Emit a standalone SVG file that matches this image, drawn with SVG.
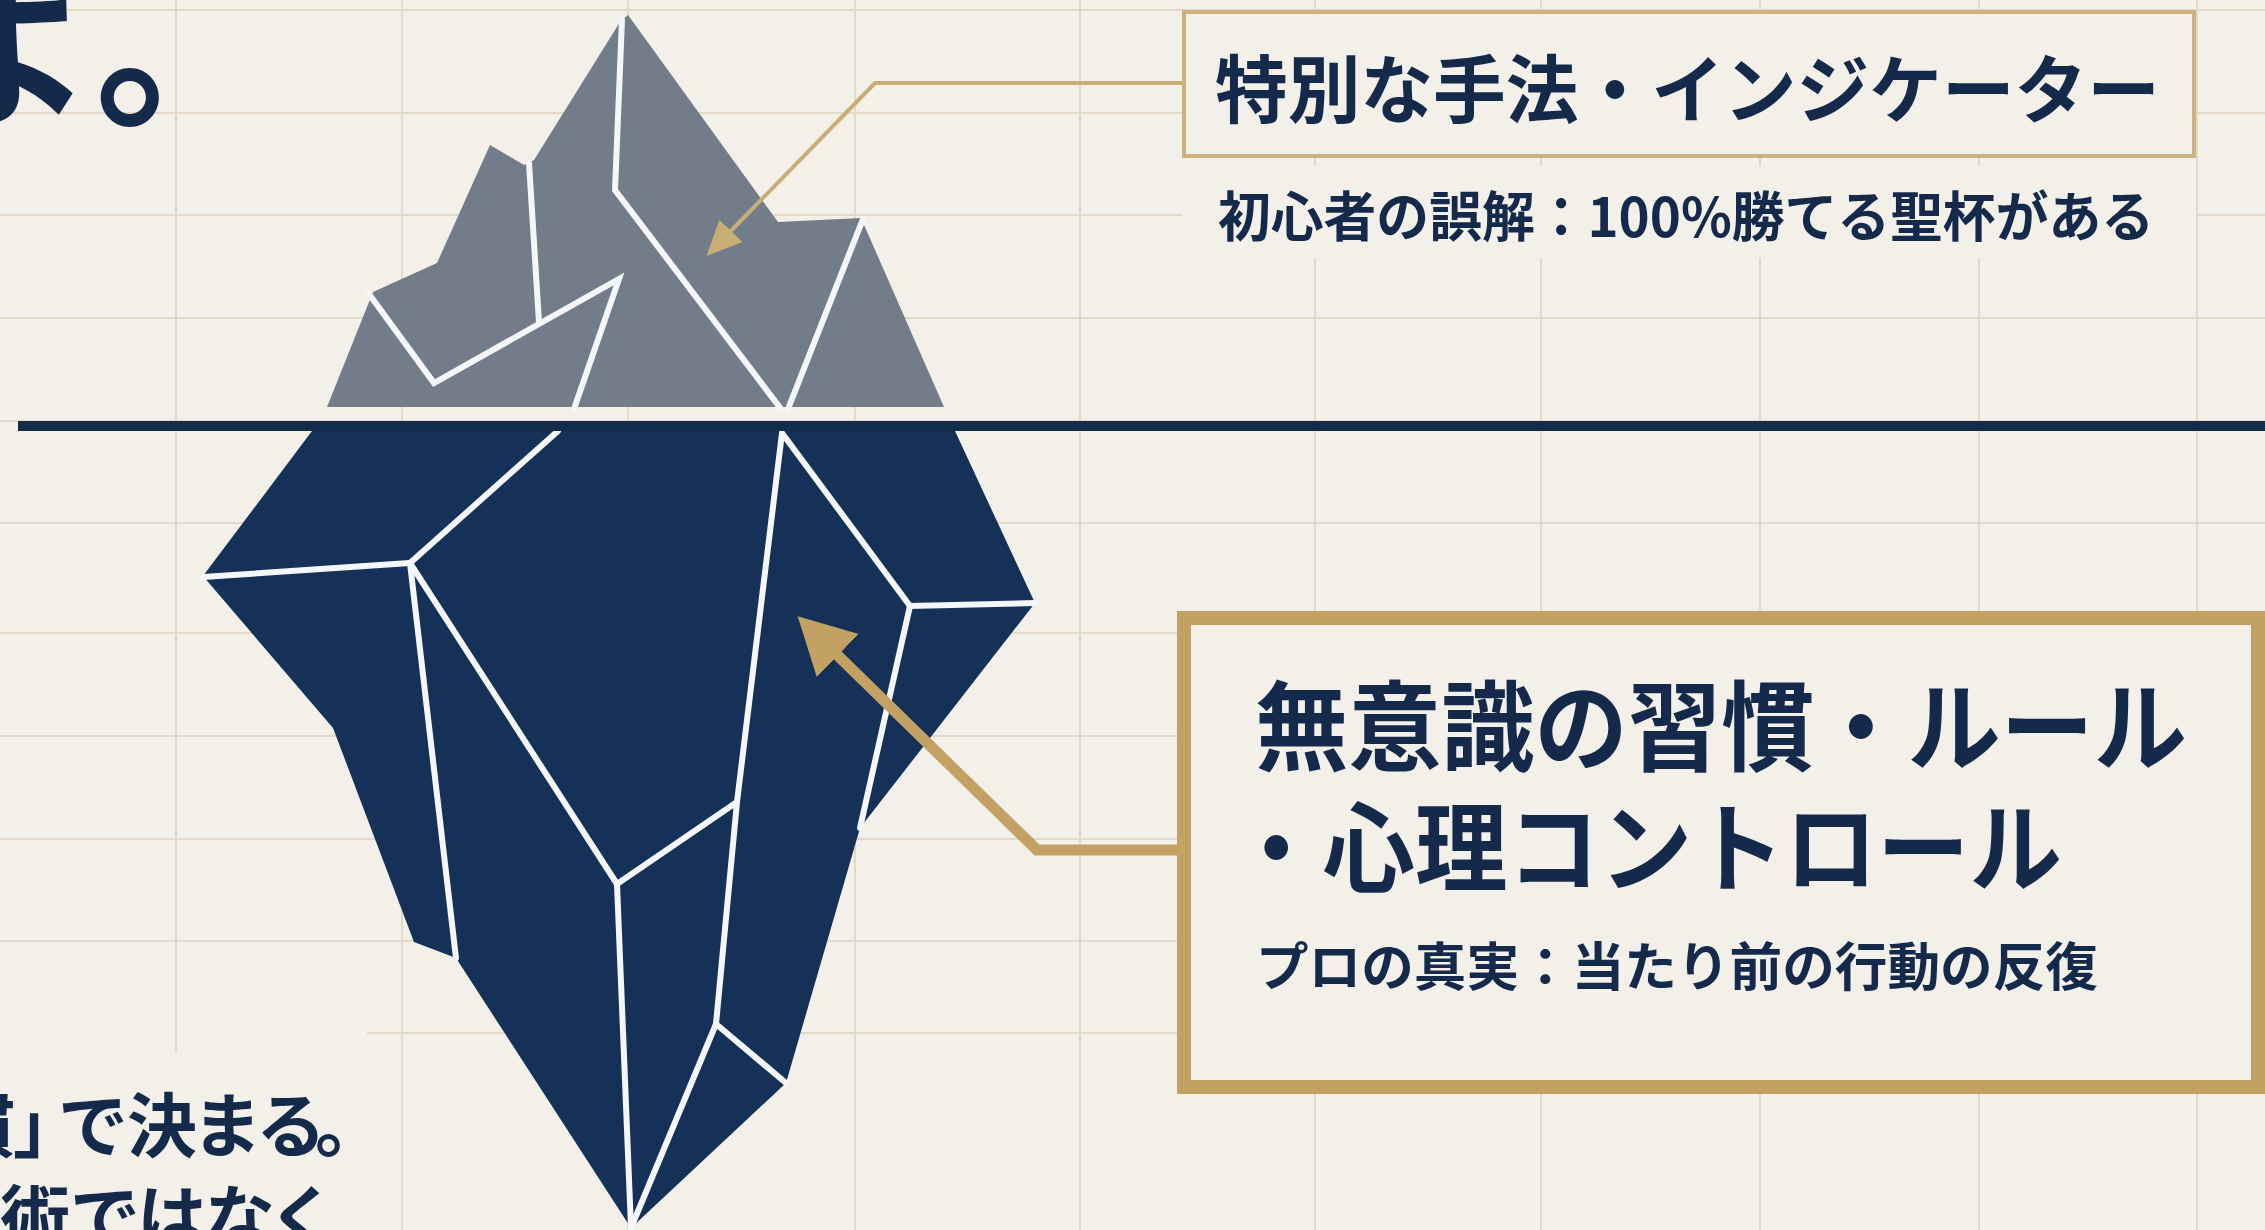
<svg xmlns="http://www.w3.org/2000/svg" width="2265" height="1230" viewBox="0 0 2265 1230">
  <style>
    .grid line { stroke: #e3d9c6; stroke-width: 2; }
    .crack { fill: none; stroke: #f4f6f8; stroke-width: 6; stroke-linejoin: miter; stroke-linecap: round; }
    .ink { fill: #15294a; font-family: "Noto Sans CJK JP", "Noto Sans CJK SC", sans-serif; font-weight: 700; }
    .gold-thin { fill: none; stroke: #c8ad74; stroke-width: 4; stroke-linejoin: miter; }
    .gold-thick { fill: none; stroke: #c2a163; stroke-width: 11; stroke-linejoin: miter; }
  </style>
  <defs>
    <marker id="head-thin" markerUnits="userSpaceOnUse" markerWidth="36" markerHeight="34" refX="10" refY="16" orient="auto">
      <path d="M0,0 L35,16 L0,32 Z" fill="#c8ad74"/>
    </marker>
    <marker id="head-thick" markerUnits="userSpaceOnUse" markerWidth="58" markerHeight="62" refX="15" refY="30" orient="auto">
      <path d="M0,0 L56,30 L0,60 Z" fill="#c2a163"/>
    </marker>
  </defs>

  <!-- paper -->
  <rect x="0" y="0" width="2265" height="1230" fill="#f2f0e9"/>

  <!-- notebook grid -->
  <g class="grid">
    <line x1="176" y1="0" x2="176" y2="1053"/>
    <line x1="402" y1="0" x2="402" y2="1230"/>
    <line x1="628" y1="0" x2="628" y2="1230"/>
    <line x1="855" y1="0" x2="855" y2="1230"/>
    <line x1="1080" y1="0" x2="1080" y2="1230"/>
    <line x1="1315" y1="0" x2="1315" y2="1230"/>
    <line x1="1541" y1="0" x2="1541" y2="1230"/>
    <line x1="1760" y1="0" x2="1760" y2="1230"/>
    <line x1="1979" y1="0" x2="1979" y2="1230"/>
    <line x1="2197" y1="0" x2="2197" y2="1230"/>
    <line x1="0" y1="10" x2="2265" y2="10"/>
    <line x1="0" y1="113" x2="2265" y2="113"/>
    <line x1="0" y1="215" x2="2265" y2="215"/>
    <line x1="0" y1="318" x2="2265" y2="318"/>
    <line x1="0" y1="421" x2="2265" y2="421"/>
    <line x1="0" y1="523" x2="2265" y2="523"/>
    <line x1="0" y1="633" x2="2265" y2="633"/>
    <line x1="0" y1="736" x2="2265" y2="736"/>
    <line x1="0" y1="839" x2="2265" y2="839"/>
    <line x1="0" y1="941" x2="2265" y2="941"/>
    <line x1="367" y1="1033" x2="2265" y2="1033"/>
  </g>

  <!-- visible tip of the iceberg -->
  <g id="iceberg-tip">
    <polygon fill="#737d8a" points="327,407 373,292 437,263 490,145 524,165 534,160 620,22 628,15 778,222 861,218 944,407"/>
    <polyline class="crack" points="622,20 615,190 781,409"/>
    <polyline class="crack" points="863,219 788,409"/>
    <polyline class="crack" points="369,294 434,383 619,279 574,409"/>
    <polyline class="crack" points="529,163 539,322"/>
  </g>

  <!-- submerged mass -->
  <g id="iceberg-base">
    <polygon fill="#163158" points="312,431 203,576 333,728 414,942 456,958 631,1228 786,1083 860,828 1035,603 955,431"/>
    <polyline class="crack" points="558,431 410,563"/>
    <polyline class="crack" points="203,577 410,563 456,958"/>
    <polyline class="crack" points="410,563 617,884 631,1228"/>
    <polyline class="crack" points="617,884 737,802 782,433 910,606 1035,603"/>
    <polyline class="crack" points="910,606 860,828"/>
    <polyline class="crack" points="737,802 716,1024 786,1083"/>
    <polyline class="crack" points="716,1024 631,1228"/>
  </g>

  <!-- water surface -->
  <line id="waterline" x1="18" y1="426" x2="2265" y2="426" stroke="#142c4c" stroke-width="10"/>

  <!-- leader lines -->
  <g id="connectors">
    <path class="gold-thin" d="M1182,83 H875 L724,238" marker-end="url(#head-thin)"/>
    <path class="gold-thick" d="M1177,850 H1037 L827,645" marker-end="url(#head-thick)"/>
  </g>

  <!-- label: surface -->
  <g id="node-surface">
    <rect x="1184" y="12" width="1010" height="144" fill="#f2f0e9" stroke="#cbb381" stroke-width="4"/>
    <text class="ink" x="1215" y="117" font-size="74" textLength="945" lengthAdjust="spacingAndGlyphs">特別な手法・インジケーター</text>
    <rect x="1182" y="166" width="1014" height="92" fill="#f2f0e9"/>
    <text class="ink" x="1218" y="237" font-size="54" textLength="936" lengthAdjust="spacingAndGlyphs">初心者の誤解：100%勝てる聖杯がある</text>
  </g>

  <!-- label: depth -->
  <g id="node-depth">
    <rect x="1184" y="618" width="1074" height="469" fill="#f2f0e9" stroke="#c2a163" stroke-width="14"/>
    <text class="ink" x="1255" y="763" font-size="98" textLength="932" lengthAdjust="spacingAndGlyphs">無意識の習慣・ルール</text>
    <text class="ink" x="1230" y="884" font-size="98" textLength="832" lengthAdjust="spacingAndGlyphs">・心理コントロール</text>
    <text class="ink" x="1256" y="986" font-size="52" textLength="842" lengthAdjust="spacingAndGlyphs">プロの真実：当たり前の行動の反復</text>
  </g>

  <!-- headline fragment, top left -->
  <g id="headline">
    <text class="ink" x="-85 95" y="112" font-size="180">よ。</text>
  </g>

  <!-- caption fragment, bottom left -->
  <g id="caption">
    <text class="ink" x="-55 13 58 127 192 256 315" y="1152" font-size="70">慣」で決まる。</text>
    <text class="ink" x="0 70 137 205 268" y="1244" font-size="70">術ではなく</text>
  </g>
</svg>
